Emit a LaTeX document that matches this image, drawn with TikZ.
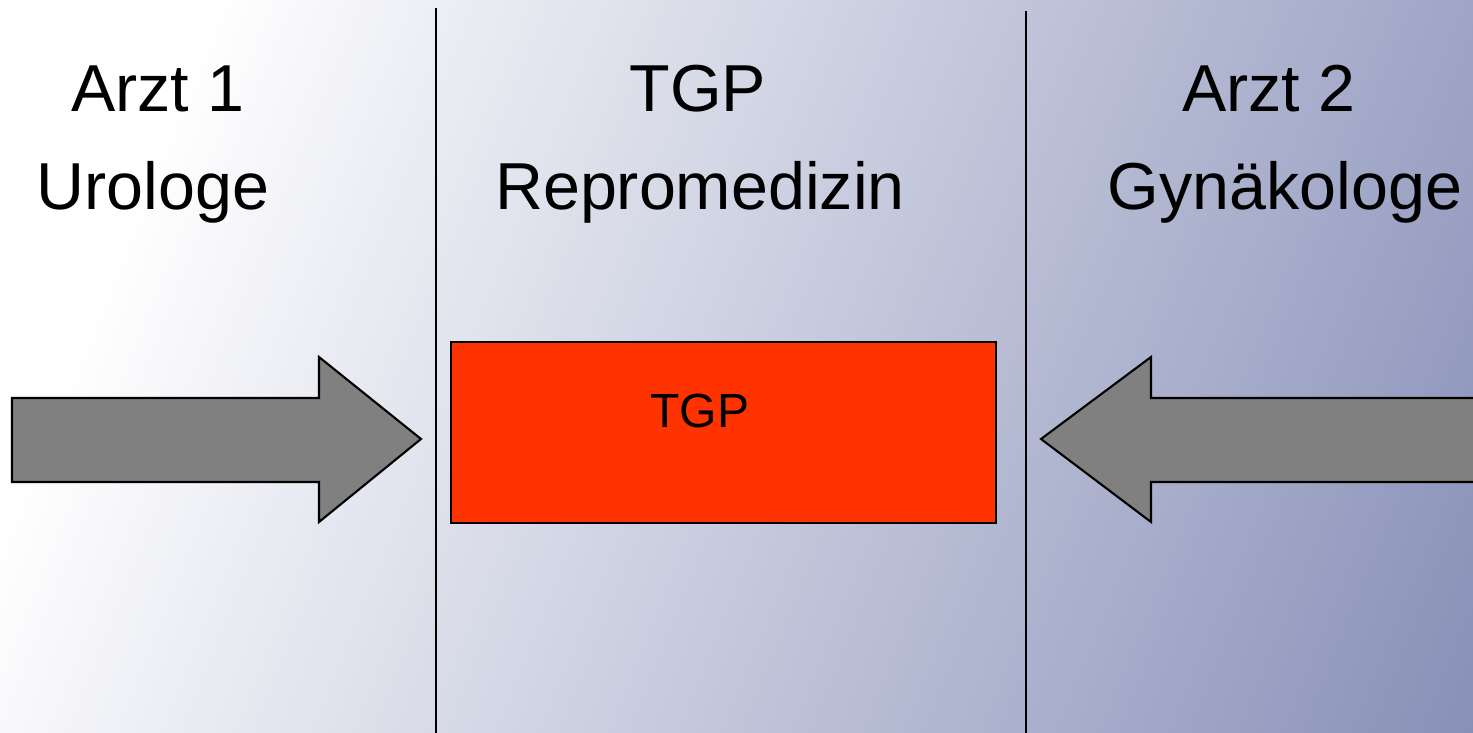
\documentclass[tikz,border=0pt]{standalone}
\usepackage{fontspec}
\setmainfont{Liberation Sans}
\definecolor{bgdark}{HTML}{8890B8}
\definecolor{arrowgray}{HTML}{808080}
\definecolor{boxred}{HTML}{FF3300}
\pgfdeclarehorizontalshading{bgshade}{100bp}{color(0bp)=(white); color(25bp)=(white); color(31bp)=(white); color(75bp)=(bgdark); color(100bp)=(bgdark)}
\begin{document}
\begin{tikzpicture}[x=0.5pt,y=-0.5pt,
  bigtext/.style={font=\fontsize{33.2}{40}\selectfont, anchor=base, inner sep=0pt},
  smalltext/.style={font=\fontsize{24}{29}\selectfont, anchor=base, inner sep=0pt},
  divider/.style={draw=black, line width=1pt},
  bigarrow/.style={draw=black, fill=arrowgray, line width=1.05pt, line join=miter},
  redbox/.style={draw=black, fill=boxred, line width=1pt, inner sep=0pt}]
\useasboundingbox (0,0) rectangle (1473,733);
\begin{scope}
\clip (0,0) rectangle (1473,733);
\begin{scope}[transform canvas={rotate=-22}]
\shade[shading=bgshade] (0,-800) rectangle (1640,800);
\end{scope}
% dividers
\coordinate (d1top) at (436,8);
\coordinate (d1bot) at (436,740);
\coordinate (d2top) at (1026,11);
\coordinate (d2bot) at (1026,740);
\draw[divider] (d1top) -- (d1bot);
\draw[divider] (d2top) -- (d2bot);
% headings
\node[bigtext] (a1) at (158,112) {Arzt 1};
\node[bigtext] (a1b) at (153,209) {Urologe};
\node[bigtext] (t1) at (698,112) {TGP};
\node[bigtext] (t1b) at (700,209) {Repromedizin};
\node[bigtext] (a2) at (1269,112) {Arzt 2};
\node[bigtext] (a2b) at (1285,209) {Gynäkologe};
% arrows
\draw[bigarrow] (12,398) -- (319,398) -- (319,357) -- (421,439) -- (319,522) -- (319,482) -- (12,482) -- cycle;
\draw[bigarrow] (1041,439) -- (1151,357) -- (1151,398) -- (1495,398) -- (1495,482) -- (1151,482) -- (1151,522) -- cycle;
% red box
\node[redbox, minimum width=272.5pt, minimum height=90.5pt] (box) at (723.5,432) {};
\node[smalltext] (boxlabel) at (700,427) {TGP};
\end{scope}
\end{tikzpicture}
\end{document}
